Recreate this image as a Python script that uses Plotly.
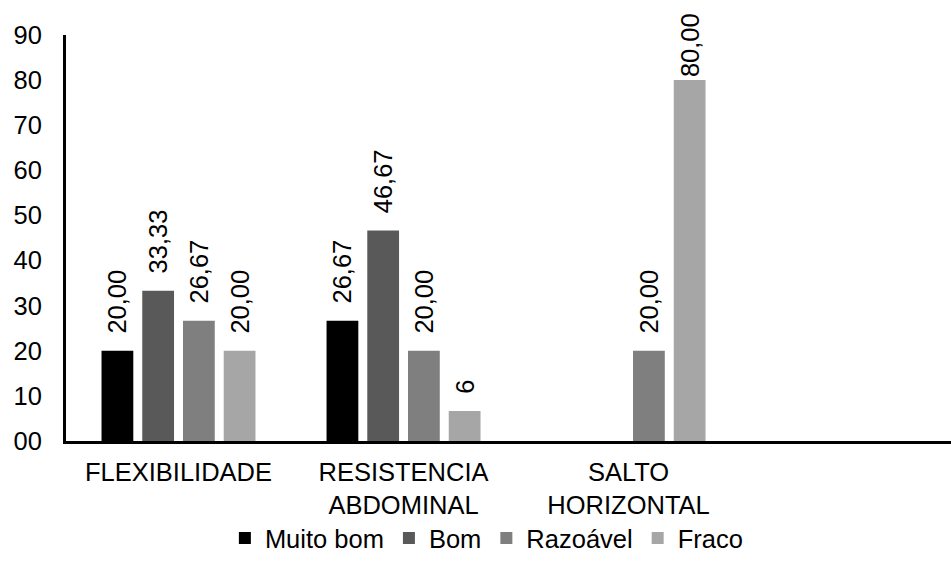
import plotly.graph_objects as go

# Test categories (the last slot is left empty on purpose)
categories = ["FLEXIBILIDADE", "RESISTENCIA<br>ABDOMINAL", "SALTO<br>HORIZONTAL", " "]

# Percentage of students in each rating, per test
muito_bom = [20.00, 26.67, None, None]
bom = [33.33, 46.67, None, None]
razoavel = [26.67, 20.00, 20.00, None]
fraco = [20.00, 6.67, 80.00, None]

# Data labels as printed on the bars
muito_bom_labels = ["20,00", "26,67", "", ""]
bom_labels = ["33,33", "46,67", "", ""]
razoavel_labels = ["26,67", "20,00", "20,00", ""]
fraco_labels = ["20,00", "6", "80,00", ""]

y_ticks = [0, 10, 20, 30, 40, 50, 60, 70, 80, 90]
y_tick_text = ["00", "10", "20", "30", "40", "50", "60", "70", "80", "90"]

series = [
    ("Muito bom", muito_bom, muito_bom_labels, "#000000"),
    ("Bom", bom, bom_labels, "#595959"),
    ("Razoável", razoavel, razoavel_labels, "#7f7f7f"),
    ("Fraco", fraco, fraco_labels, "#a6a6a6"),
]

FONT = "Arial, 'Liberation Sans', sans-serif"
SIZE = 25.5
Y_MAX = 90
PAD = "\u00a0\u00a0"  # small lift between bar top and its label


def label_text(value, label):
    # Tall bars keep their label tight to the bar so it stays near the chart
    if not label:
        return ""
    return label if value is not None and value > 0.75 * Y_MAX else PAD + label


fig = go.Figure()
for name, values, labels, color in series:
    fig.add_trace(go.Bar(
        name=name,
        x=categories,
        y=values,
        text=[label_text(v, t) for v, t in zip(values, labels)],
        textposition="outside",
        textangle=-90,
        constraintext="none",
        cliponaxis=False,
        textfont=dict(family=FONT, size=SIZE, color="#000000"),
        marker=dict(color=color, line=dict(width=0)),
        hoverinfo="skip",
    ))

fig.update_layout(
    width=951,
    height=569,
    barmode="group",
    bargap=0.276,
    bargroupgap=0.22,
    plot_bgcolor="#ffffff",
    paper_bgcolor="#ffffff",
    margin=dict(l=66, r=0, t=35, b=128),
    font=dict(family=FONT, size=SIZE, color="#000000"),
    showlegend=True,
    legend=dict(
        orientation="h",
        x=0.475, xanchor="center",
        y=-0.24, yanchor="middle",
        font=dict(family=FONT, size=SIZE, color="#000000"),
        itemwidth=30,
        traceorder="normal",
    ),
    xaxis=dict(
        range=[-0.5, 3.433],
        showline=True,
        linecolor="#000000",
        linewidth=3,
        showgrid=False,
        zeroline=False,
        ticks="",
        ticklabelstandoff=6,
        tickfont=dict(family=FONT, size=SIZE, color="#000000"),
    ),
    yaxis=dict(
        range=[0, Y_MAX],
        tickvals=y_ticks,
        ticktext=y_tick_text,
        showline=True,
        linecolor="#000000",
        linewidth=3,
        showgrid=False,
        zeroline=False,
        ticks="",
        ticklabelstandoff=16,
        tickfont=dict(family=FONT, size=SIZE, color="#000000"),
    ),
)

fig.write_html("out.html")
